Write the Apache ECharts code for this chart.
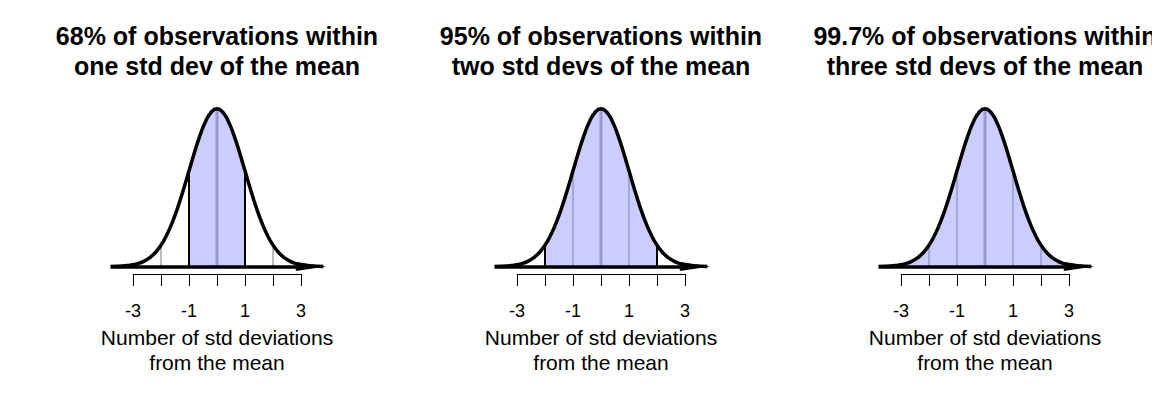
<!DOCTYPE html>
<html>
<head>
<meta charset="utf-8">
<script src="https://cdn.jsdelivr.net/npm/echarts@6/dist/echarts.min.js"></script>
<style>html,body{margin:0;padding:0;background:#fff}#c{width:1152px;height:403px}</style>
</head>
<body>
<div id="c"></div>
<script>
// ---- data ----
const titles = [
  '68% of observations within\none std dev of the mean',
  '95% of observations within\ntwo std devs of the mean',
  '99.7% of observations within\nthree std devs of the mean'
];
const shadedWithin = [1, 2, 3];
const zValues = [-3.8,-3.6,-3.4,-3.2,-3.0,-2.8,-2.6,-2.4,-2.2,-2.0,-1.8,-1.6,-1.4,-1.2,-1.0,-0.8,-0.6,-0.4,-0.2,0,
  0.2,0.4,0.6,0.8,1.0,1.2,1.4,1.6,1.8,2.0,2.2,2.4,2.6,2.8,3.0,3.2,3.4,3.6,3.8];
const heights = [0.0003,0.0006,0.0012,0.0024,0.0044,0.0079,0.0136,0.0224,0.0355,0.0540,0.0790,0.1109,0.1497,0.1942,0.2420,0.2897,0.3332,0.3683,0.3910,0.3989,
  0.3910,0.3683,0.3332,0.2897,0.2420,0.1942,0.1497,0.1109,0.0790,0.0540,0.0355,0.0224,0.0136,0.0079,0.0044,0.0024,0.0012,0.0006,0.0003];
const guideLines = [-3,-2,-1,0,1,2,3];
const tickValues = [-3,-2,-1,0,1,2,3];
const tickLabels = ['-3','','-1','','1','','3'];
const arrowRange = [-3.8, 3.35];
const axisTitle = 'Number of std deviations\nfrom the mean';

// ---- layout ----
const FONT = "'Liberation Sans', Arial, Helvetica, sans-serif";
const centers = [217, 601, 985];
const sdPx = 28;
const baseY = 266.5;
const yTopVal = 0.4;
const pxPerUnit = 395.3;

const curve = zValues.map((z, i) => [z, heights[i]]);
function heightAt(z) {
  const i = zValues.findIndex(v => Math.abs(v - z) < 1e-9);
  return heights[i];
}

const grids = [], xAxes = [], yAxes = [], series = [], graphics = [];
centers.forEach((c, p) => {
  const k = shadedWithin[p];
  grids.push({left: c - 4 * sdPx, width: 8 * sdPx, top: baseY - yTopVal * pxPerUnit, height: yTopVal * pxPerUnit});
  const gA = grids.length - 1;
  xAxes.push({gridIndex: gA, type: 'value', min: -4, max: 4, show: false});
  yAxes.push({gridIndex: gA, type: 'value', min: 0, max: yTopVal, show: false});
  const xa = xAxes.length - 1, ya = yAxes.length - 1;
  grids.push({left: c - 3 * sdPx, width: 6 * sdPx, top: 250, height: 24});
  const gB = grids.length - 1;
  xAxes.push({
    gridIndex: gB, type: 'value', min: -3, max: 3, interval: 1, position: 'bottom',
    axisLine: {show: true, lineStyle: {color: '#000', width: 1}},
    axisTick: {show: true, length: 12, lineStyle: {color: '#000', width: 1}},
    splitLine: {show: false},
    axisLabel: {
      margin: 28, fontSize: 18, color: '#000', fontFamily: FONT,
      formatter: v => tickLabels[tickValues.indexOf(Math.round(v))] || ''
    },
    name: axisTitle, nameLocation: 'middle', nameGap: 51,
    nameTextStyle: {fontSize: 21, lineHeight: 25, color: '#000', fontFamily: FONT}
  });
  yAxes.push({gridIndex: gB, type: 'value', show: false});

  series.push({
    type: 'line', xAxisIndex: xa, yAxisIndex: ya, clip: false, silent: true,
    data: curve.filter(d => Math.abs(d[0]) <= k + 1e-9),
    symbol: 'none', smooth: true, lineStyle: {width: 0},
    areaStyle: {color: '#ccccff', opacity: 1}, z: 1
  });
  guideLines.forEach(g => {
    let color, width;
    if (g === 0) { color = '#9999cc'; width = 3; }
    else if (Math.abs(g) === k) { color = '#000'; width = 2; }
    else if (Math.abs(g) < k) { color = '#a6a6d8'; width = 2; }
    else { color = '#bdbdbd'; width = 2; }
    series.push({
      type: 'line', xAxisIndex: xa, yAxisIndex: ya, clip: false, silent: true,
      data: [[g, 0], [g, heightAt(g)]], symbol: 'none',
      lineStyle: {color, width}, z: 2
    });
  });
  series.push({
    type: 'line', xAxisIndex: xa, yAxisIndex: ya, clip: false, silent: true,
    data: curve, symbol: 'none', smooth: true,
    lineStyle: {color: '#000', width: 3.5}, z: 3,
    markLine: {
      silent: true, symbol: ['none', 'triangle'], symbolSize: [9, 30],
      label: {show: false},
      lineStyle: {color: '#000', width: 3.5, type: 'solid'},
      itemStyle: {color: '#000'},
      data: [[{coord: [arrowRange[0], 0]}, {coord: [arrowRange[1], 0]}]]
    }
  });
  graphics.push({
    type: 'text', x: c, y: 21,
    style: {text: titles[p], fill: '#000', font: 'bold 25px ' + FONT, align: 'center', verticalAlign: 'top', lineHeight: 30}
  });
});

const chart = echarts.init(document.getElementById('c'), null, {renderer: 'svg'});
chart.setOption({
  animation: false,
  backgroundColor: '#fff',
  grid: grids, xAxis: xAxes, yAxis: yAxes, series: series,
  graphic: graphics
});
</script>
</body>
</html>
